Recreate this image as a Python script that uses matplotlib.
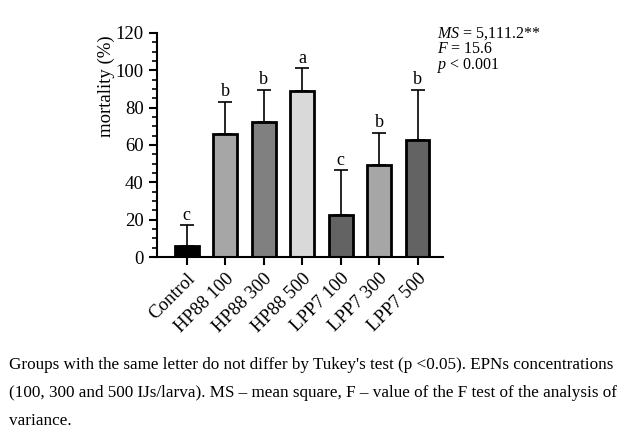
import matplotlib.pyplot as plt
from matplotlib.ticker import MultipleLocator

# -------------------------------
# Data
# -------------------------------
groups = ["Control", "HP88 100", "HP88 300", "HP88 500", "LPP7 100", "LPP7 300", "LPP7 500"]
mortality = [6, 66, 72.5, 89, 22.5, 49, 62.5]
err_upper = [11, 17, 17, 12, 24, 17.5, 27]
letters = ["c", "b", "b", "a", "c", "b", "b"]
bar_colors = ["#000000", "#a6a6a6", "#808080", "#d9d9d9", "#636363", "#a6a6a6", "#636363"]

stats_lines = [r"$\it{MS}$ = 5,111.2**", r"$\it{F}$ = 15.6", r"$\it{p}$ < 0.001"]
caption_lines = [
    "Groups with the same letter do not differ by Tukey's test (p <0.05). EPNs concentrations",
    "(100, 300 and 500 IJs/larva). MS \u2013 mean square, F \u2013 value of the F test of the analysis of",
    "variance.",
]

plt.rcParams["font.family"] = ["Liberation Serif", "DejaVu Serif"]
plt.rcParams["mathtext.fontset"] = "custom"
plt.rcParams["mathtext.rm"] = "Liberation Serif"
plt.rcParams["mathtext.it"] = "Liberation Serif:italic"

fig = plt.figure(figsize=(6.23, 4.32), dpi=100)
ax = fig.add_axes([0.252, 0.405, 0.459, 0.519])

x = list(range(len(groups)))
ax.bar(x, mortality, width=0.62, color=bar_colors, edgecolor="black", linewidth=2, zorder=2)
ax.errorbar(x, mortality, yerr=[[0] * len(x), err_upper], fmt="none", ecolor="black",
            elinewidth=1.2, capsize=5, capthick=1.2, zorder=1)

for xi, m, e, lab in zip(x, mortality, err_upper, letters):
    ax.text(xi, m + e + 0.8, lab, ha="center", va="bottom", fontsize=13)

ax.set_xlim(-0.77, 6.66)
ax.set_ylim(0, 120)
ax.yaxis.set_major_locator(MultipleLocator(20))
ax.yaxis.set_minor_locator(MultipleLocator(5))
ax.set_xticks(x)
ax.set_xticklabels(groups, rotation=45, ha="right", rotation_mode="anchor", fontsize=13.5)
ax.tick_params(axis="both", which="major", length=6, width=1.5, labelsize=13.5, direction="out")
ax.tick_params(axis="y", which="minor", length=3.5, width=1.2)
ax.set_ylabel("mortality (%)", fontsize=13.5)
# label sits high on the axis in the original
ax.yaxis.set_label_coords(-0.147, 0.763)

for side in ["top", "right"]:
    ax.spines[side].set_visible(False)
for side in ["left", "bottom"]:
    ax.spines[side].set_linewidth(1.5)

# stats block, one line each (baselines ~16 px apart)
for i, line in enumerate(stats_lines):
    fig.text(0.701, 0.914 - i * 0.037, line, fontsize=11.5, va="baseline")

# figure caption below the chart
for i, line in enumerate(caption_lines):
    fig.text(0.014, 0.146 - i * 0.065, line, fontsize=12.3, va="baseline", ha="left")

fig.savefig("out.png", dpi=100)
